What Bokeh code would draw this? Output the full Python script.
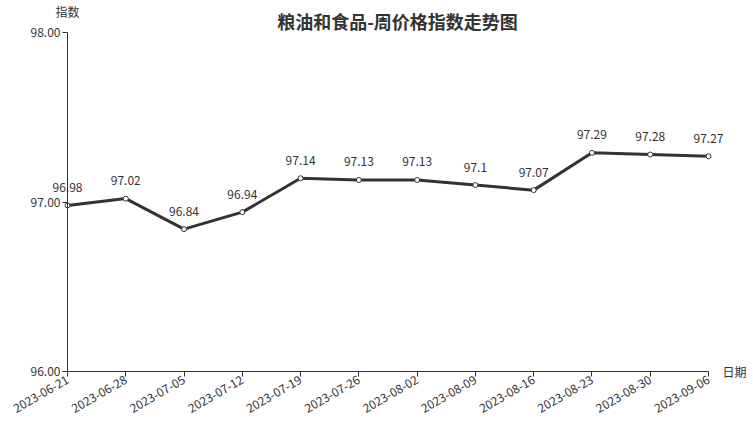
import math
from bokeh.plotting import figure
from bokeh.models import ColumnDataSource, FixedTicker, Label, LabelSet, Range1d, NumeralTickFormatter
from bokeh.core.properties import value
from bokeh.embed import file_html
from bokeh.resources import INLINE

dates = ["2023-06-21", "2023-06-28", "2023-07-05", "2023-07-12", "2023-07-19", "2023-07-26",
         "2023-08-02", "2023-08-09", "2023-08-16", "2023-08-23", "2023-08-30", "2023-09-06"]
values = [96.98, 97.02, 96.84, 96.94, 97.14, 97.13, 97.13, 97.10, 97.07, 97.29, 97.28, 97.27]
value_labels = ["96.98", "97.02", "96.84", "96.94", "97.14", "97.13", "97.13", "97.1", "97.07", "97.29", "97.28", "97.27"]
y_ticks = [96, 97, 98]
y_min, y_max = 96, 98
title_text = "粮油和食品-周价格指数走势图"
y_name = "指数"
x_name = "日期"

FONT = "Noto Sans CJK SC"
TXT = "#333333"

# layout (pixels on canvas)
W, H = 753, 427
PX_L, PX_R, PX_T, PX_B = 67, 708, 32, 371   # plot area edges

n = len(dates)
xs = list(range(n))
ux = (PX_R - PX_L) / (n - 1)
uy = (PX_B - PX_T) / (y_max - y_min)
def dx(px):
    return (px - PX_L) / ux
def dy(py):
    return y_min + (PX_B - py) / uy

src = ColumnDataSource(dict(x=xs, y=values, lab=value_labels))

p = figure(width=W, height=H, output_backend="svg", toolbar_location=None,
           x_range=Range1d(dx(0), dx(W)), y_range=Range1d(dy(H), dy(0)),
           min_border=0)
p.outline_line_color = None
p.xgrid.visible = False
p.ygrid.visible = False

p.xaxis.ticker = FixedTicker(ticks=xs)
p.xaxis.major_label_overrides = {i: d for i, d in enumerate(dates)}
p.xaxis.major_label_orientation = math.pi / 6
p.xaxis.fixed_location = y_min
p.xaxis.bounds = (0, n - 1)
p.yaxis.ticker = FixedTicker(ticks=y_ticks)
p.yaxis.formatter = NumeralTickFormatter(format="0.00")
p.yaxis.fixed_location = 0
p.yaxis.bounds = (y_min, y_max)
for ax in (p.xaxis, p.yaxis):
    ax.axis_line_color = TXT
    ax.major_tick_line_color = TXT
    ax.major_tick_in = 0
    ax.major_tick_out = 5
    ax.minor_tick_line_color = None
    ax.major_label_text_font = FONT
    ax.major_label_text_font_size = "12px"
    ax.major_label_text_color = TXT
    ax.major_label_standoff = 2

p.line("x", "y", source=src, line_color="#333333", line_width=3)
p.scatter("x", "y", source=src, size=5, fill_color="white", line_color="#333333", line_width=1)
p.add_layout(LabelSet(x="x", y="y", text="lab", source=src, text_font=value(FONT), text_font_size="12px",
                      text_color=TXT, text_align="center", text_baseline="middle", y_offset=18))

p.add_layout(Label(x=dx(397), y=dy(20), text=title_text, text_font=FONT, text_font_size="18px",
                   text_font_style="bold", text_color=TXT, text_align="center", text_baseline="middle"))
p.add_layout(Label(x=0, y=dy(11), text=y_name, text_font=FONT, text_font_size="12px", text_color=TXT,
                   text_align="center", text_baseline="middle"))
p.add_layout(Label(x=dx(722), y=y_min, text=x_name, text_font=FONT, text_font_size="12px",
                   text_color=TXT, text_align="left", text_baseline="middle"))

open("out.html", "w").write(file_html(p, INLINE))
